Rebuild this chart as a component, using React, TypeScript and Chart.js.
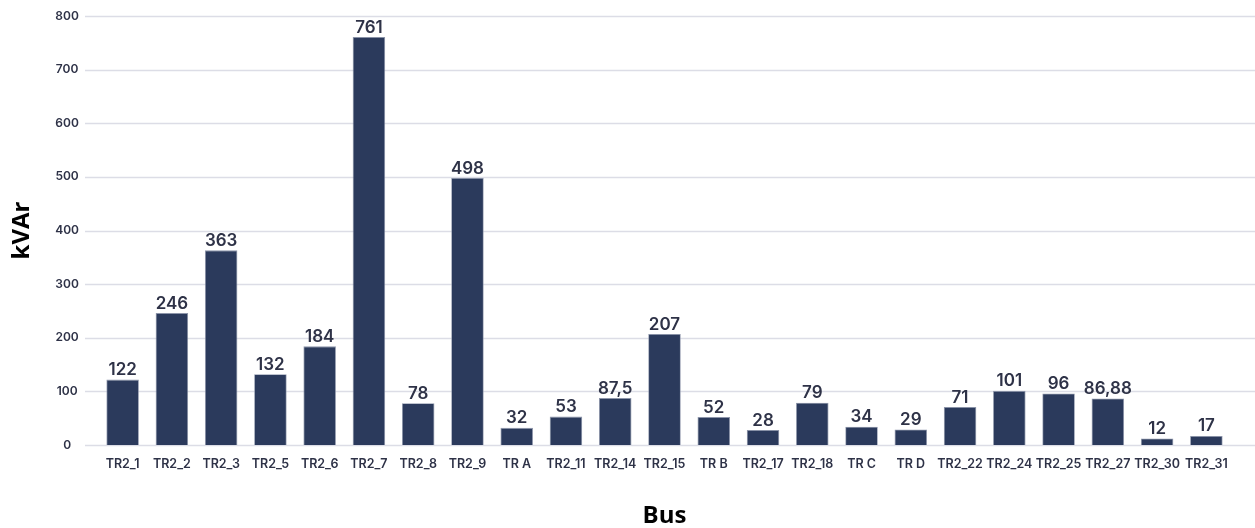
import React, { useEffect, useRef } from "react";
import { Chart, registerables } from "chart.js";

Chart.register(...registerables);

const categories = [
  "TR2_1", "TR2_2", "TR2_3", "TR2_5", "TR2_6", "TR2_7", "TR2_8", "TR2_9",
  "TR A", "TR2_11", "TR2_14", "TR2_15", "TR B", "TR2_17", "TR2_18", "TR C",
  "TR D", "TR2_22", "TR2_24", "TR2_25", "TR2_27", "TR2_30", "TR2_31",
];
const values = [
  122, 246, 363, 132, 184, 761, 78, 498,
  32, 53, 87.5, 207, 52, 28, 79, 34,
  29, 71, 101, 96, 86.88, 12, 17,
];
const valueLabels = [
  "122", "246", "363", "132", "184", "761", "78", "498",
  "32", "53", "87,5", "207", "52", "28", "79", "34",
  "29", "71", "101", "96", "86,88", "12", "17",
];
const yMin = 0;
const yMax = 800;
const yStep = 100;

const BAR_COLOR = "#2b3a5c";
const GRID_COLOR = "#dcdde6";
const TEXT_COLOR = "#2e3247";

export default function App() {
  const ref = useRef<HTMLCanvasElement | null>(null);

  useEffect(() => {
    if (!ref.current) return;

    const gridPlugin = {
      id: "extendedGrid",
      beforeDatasetsDraw(chart: any) {
        const { ctx } = chart;
        const y = chart.scales.y;
        ctx.save();
        ctx.strokeStyle = GRID_COLOR;
        ctx.lineWidth = 1.5;
        y.ticks.forEach((t: any) => {
          const py = Math.round(y.getPixelForValue(t.value)) + 0.5;
          ctx.beginPath();
          ctx.moveTo(85, py);
          ctx.lineTo(chart.width, py);
          ctx.stroke();
        });
        ctx.restore();
      },
    };

    const labelPlugin = {
      id: "valueLabels",
      afterDatasetsDraw(chart: any) {
        const { ctx } = chart;
        const meta = chart.getDatasetMeta(0);
        ctx.save();
        ctx.fillStyle = TEXT_COLOR;
        ctx.font = "600 17px Inter, 'Noto Sans', sans-serif";
        ctx.textAlign = "center";
        ctx.textBaseline = "bottom";
        meta.data.forEach((bar: any, i: number) => {
          ctx.fillText(valueLabels[i], bar.x, bar.y - 1);
        });
        ctx.restore();
      },
    };

    const chart = new Chart(ref.current, {
      type: "bar",
      data: {
        labels: categories,
        datasets: [
          {
            data: values,
            backgroundColor: BAR_COLOR,
            borderColor: "#8d95aa",
            borderWidth: 0.8,
            categoryPercentage: 1,
            barPercentage: 0.66,
          },
        ],
      },
      options: {
        animation: false,
        responsive: false,
        maintainAspectRatio: false,
        layout: { padding: { top: 16, right: 24, bottom: 0, left: 0 } },
        plugins: {
          legend: { display: false },
          tooltip: { enabled: false },
        },
        scales: {
          x: {
            grid: { display: false, drawTicks: false },
            border: { display: false },
            ticks: {
              color: TEXT_COLOR,
              padding: 12,
              maxRotation: 0,
              autoSkip: false,
              font: { family: "Inter, 'Noto Sans', sans-serif", size: 12.5, weight: 600 },
            },
            title: {
              display: true,
              text: "Bus",
              color: "#000000",
              padding: { top: 0, bottom: 0 },
              font: { family: "'Open Sans', sans-serif", size: 24, weight: "bold", lineHeight: 1 },
            },
            afterFit(scale: any) {
              scale.height = 83;
            },
          },
          y: {
            min: yMin,
            max: yMax,
            grid: { display: false, drawTicks: true, tickLength: 19 },
            border: { display: false },
            ticks: {
              stepSize: yStep,
              color: TEXT_COLOR,
              padding: 0,
              crossAlign: "center",
              font: { family: "Inter, 'Noto Sans', sans-serif", size: 12, weight: 600 },
            },
            title: {
              display: true,
              text: "kVAr",
              color: "#000000",
              padding: { top: 10, bottom: 0 },
              font: { family: "'Open Sans', sans-serif", size: 24, weight: "bold", lineHeight: 1 },
            },
            afterFit(scale: any) {
              scale.width = 98;
            },
          },
        },
      },
      plugins: [gridPlugin, labelPlugin],
    });

    return () => chart.destroy();
  }, []);

  return (
    <div style={{ position: "fixed", left: 0, top: 0, width: 1255, height: 528, background: "#fff" }}>
      <canvas ref={ref} width={1255} height={528} style={{ display: "block", width: 1255, height: 528 }} />
    </div>
  );
}
